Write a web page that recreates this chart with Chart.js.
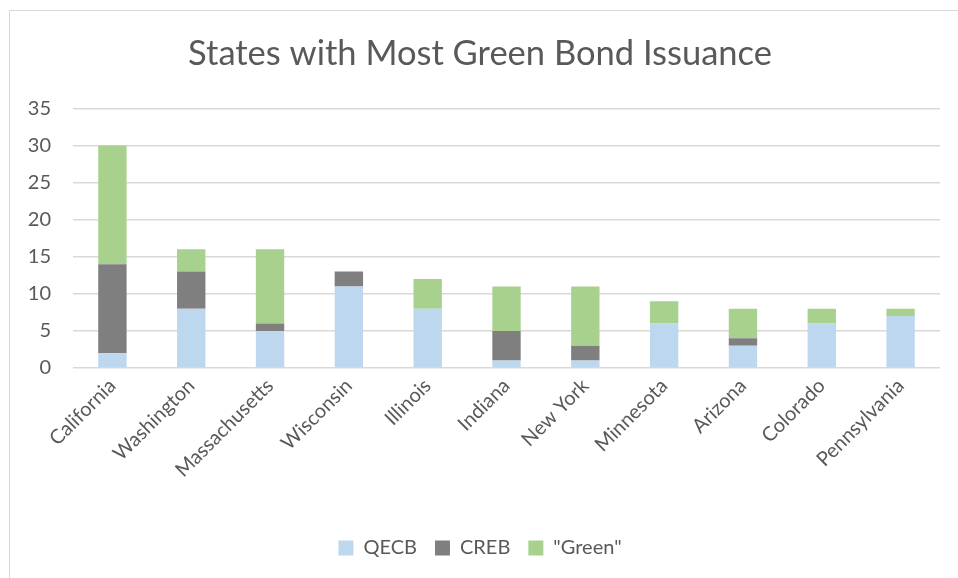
<!DOCTYPE html>
<html>
<head>
<meta charset="utf-8">
<script src="https://cdn.jsdelivr.net/npm/chart.js@4.4.0/dist/chart.umd.min.js"></script>
<style>
  html, body { margin: 0; padding: 0; background: #fff; overflow: hidden; }
  #frame { position: absolute; left: 9px; top: 10px; width: 1000px; height: 1000px; border: 1.5px solid #d9d9d9; box-sizing: border-box; }
  #wrap { position: absolute; left: 0; top: 0; width: 958px; height: 578px; }
</style>
</head>
<body>
<div id="frame"></div>
<div id="wrap"><canvas id="c"></canvas></div>
<script>
// ── Data ──
const states = ['California', 'Washington', 'Massachusetts', 'Wisconsin', 'Illinois', 'Indiana', 'New York', 'Minnesota', 'Arizona', 'Colorado', 'Pennsylvania'];
const qecb  = [2, 8, 5, 11, 8, 1, 1, 6, 3, 6, 7];
const creb  = [12, 5, 1, 2, 0, 4, 2, 0, 1, 0, 0];
const green = [16, 3, 10, 0, 4, 6, 8, 3, 4, 2, 1];
const yTicks = [0, 5, 10, 15, 20, 25, 30, 35];

const FONT = 'Lato, "Open Sans", sans-serif';
const TXT = '#595959';

const ds = (label, data, color) => ({ label, data, backgroundColor: color, borderWidth: 0, barPercentage: 0.36, categoryPercentage: 1, stack: 's' });

new Chart(document.getElementById('c').getContext('2d'), {
  type: 'bar',
  data: { labels: states, datasets: [
    ds('QECB', qecb, '#bdd7ee'),
    ds('CREB', creb, '#7f7f7f'),
    ds('"Green"', green, '#a9d18e')
  ]},
  options: {
    responsive: true, maintainAspectRatio: false, animation: false,
    layout: { padding: { left: 20, right: 18, top: 0, bottom: 10 } },
    plugins: {
      title: { display: true, text: 'States with Most Green Bond Issuance', color: TXT, font: { family: FONT, size: 34.5, weight: 'normal' }, padding: { top: 33, bottom: 34 } },
      legend: { position: 'bottom', labels: { color: TXT, font: { family: FONT, size: 20 }, boxWidth: 15, boxHeight: 15, padding: 18 } },
      tooltip: { enabled: false }
    },
    scales: {
      x: {
        stacked: true,
        grid: { display: false, drawTicks: false },
        border: { display: false },
        ticks: { color: TXT, font: { family: FONT, size: 20 }, minRotation: 45, maxRotation: 45, padding: 6 },
        afterFit: s => { s.height = 152; }
      },
      y: {
        stacked: true, min: 0, max: 35,
        afterBuildTicks: s => { s.ticks = yTicks.map(v => ({ value: v })); },
        grid: { color: '#d9d9d9', lineWidth: 1.5, drawTicks: false },
        border: { display: false },
        ticks: { color: TXT, font: { family: FONT, size: 20 }, padding: 22 },
        afterFit: s => { s.width = 53; }
      }
    }
  }
});
</script>
</body>
</html>
